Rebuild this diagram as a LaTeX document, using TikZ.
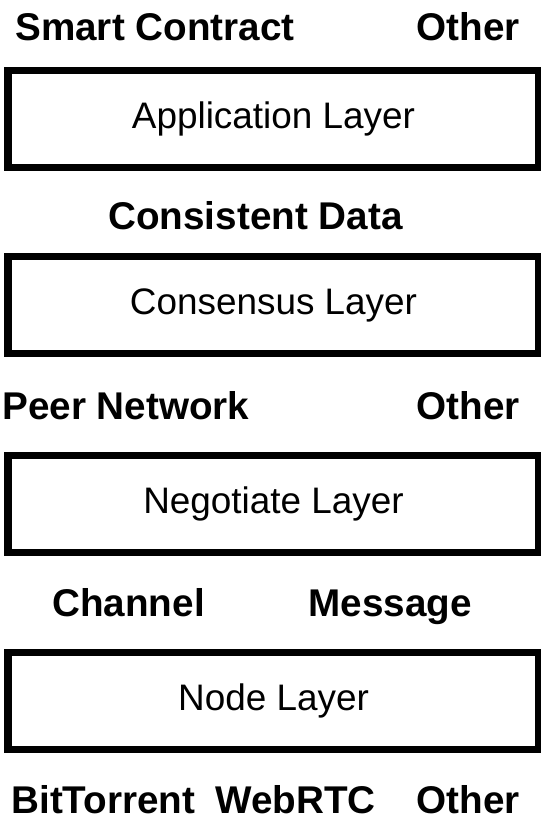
\documentclass[tikz,border=0pt]{standalone}
\usepackage{fontspec}
\setmainfont{Liberation Sans}
\usetikzlibrary{positioning}

\begin{document}
\begin{tikzpicture}[
    x=0.02cm, y=-0.02cm,
    layer/.style={draw, line width=4.5pt, minimum width=10.64cm, minimum height=1.94cm, inner sep=0pt, font=\fontsize{21}{25}\selectfont},
    tag/.style={anchor=base west, inner sep=0pt, font=\bfseries\fontsize{22}{26}\selectfont}
]
\useasboundingbox (0,0) rectangle (541,833);

% the four layers
\node[layer] (app) at (273.5,119) {Application Layer};
\node[layer] (consensus) at (273.5,305) {Consensus Layer};
\node[layer] (negotiate) at (273.5,504) {Negotiate Layer};
\node[layer] (nodelayer) at (273.5,701) {Node Layer};

% what sits on top of each layer
\node[tag] (contract) at (15,40) {Smart Contract};
\node[tag, anchor=base east] (otherapp) at (520,40) {Other};
\node[tag] (data) at (108,229) {Consistent Data};
\node[tag] (peer) at (2,419) {Peer Network};
\node[tag, anchor=base east] (othernet) at (520,419) {Other};
\node[tag] (channel) at (52,616) {Channel};
\node[tag] (message) at (308,616) {Message};
\node[tag] (torrent) at (11,813) {BitTorrent};
\node[tag] (webrtc) at (215,813) {WebRTC};
\node[tag, anchor=base east] (othertrans) at (520,813) {Other};
\end{tikzpicture}
\end{document}
